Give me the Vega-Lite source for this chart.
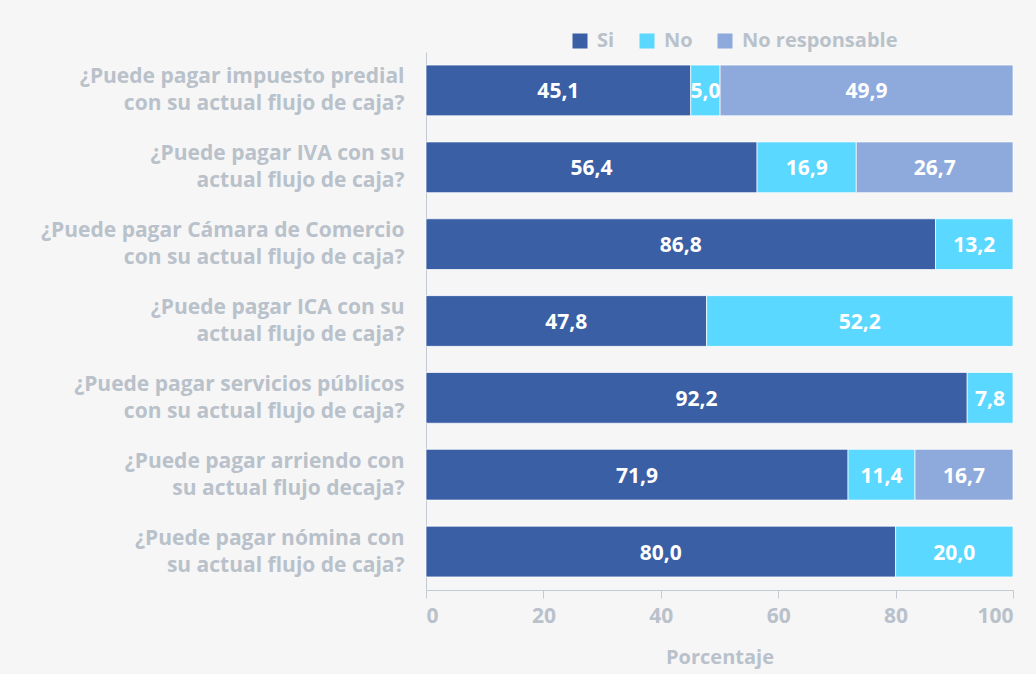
{
  "$schema": "https://vega.github.io/schema/vega-lite/v6.json",
  "width": 587,
  "height": 538,
  "autosize": "none",
  "padding": {"left": 426, "top": 52, "right": 23, "bottom": 84},
  "background": "#f6f6f6",
  "config": {
    "view": {"stroke": null},
    "font": "Open Sans",
    "axis": {"labelFont": "Open Sans", "titleFont": "Open Sans", "labelColor": "#b9c1ca", "titleColor": "#b9c1ca", "domainColor": "#c3cad2", "tickColor": "#c3cad2", "grid": false}
  },
  "data": {
    "values": [
      {"q": "¿Puede pagar impuesto predial|con su actual flujo de caja?", "k": 1, "cat": "Si", "o": 1, "v": 45.1},
      {"q": "¿Puede pagar impuesto predial|con su actual flujo de caja?", "k": 1, "cat": "No", "o": 2, "v": 5.0},
      {"q": "¿Puede pagar impuesto predial|con su actual flujo de caja?", "k": 1, "cat": "No responsable", "o": 3, "v": 49.9},
      {"q": "¿Puede pagar IVA con su|actual flujo de caja?", "k": 2, "cat": "Si", "o": 1, "v": 56.4},
      {"q": "¿Puede pagar IVA con su|actual flujo de caja?", "k": 2, "cat": "No", "o": 2, "v": 16.9},
      {"q": "¿Puede pagar IVA con su|actual flujo de caja?", "k": 2, "cat": "No responsable", "o": 3, "v": 26.7},
      {"q": "¿Puede pagar Cámara de Comercio|con su actual flujo de caja?", "k": 3, "cat": "Si", "o": 1, "v": 86.8},
      {"q": "¿Puede pagar Cámara de Comercio|con su actual flujo de caja?", "k": 3, "cat": "No", "o": 2, "v": 13.2},
      {"q": "¿Puede pagar ICA con su|actual flujo de caja?", "k": 4, "cat": "Si", "o": 1, "v": 47.8},
      {"q": "¿Puede pagar ICA con su|actual flujo de caja?", "k": 4, "cat": "No", "o": 2, "v": 52.2},
      {"q": "¿Puede pagar servicios públicos|con su actual flujo de caja?", "k": 5, "cat": "Si", "o": 1, "v": 92.2},
      {"q": "¿Puede pagar servicios públicos|con su actual flujo de caja?", "k": 5, "cat": "No", "o": 2, "v": 7.8},
      {"q": "¿Puede pagar arriendo con|su actual flujo decaja?", "k": 6, "cat": "Si", "o": 1, "v": 71.9},
      {"q": "¿Puede pagar arriendo con|su actual flujo decaja?", "k": 6, "cat": "No", "o": 2, "v": 11.4},
      {"q": "¿Puede pagar arriendo con|su actual flujo decaja?", "k": 6, "cat": "No responsable", "o": 3, "v": 16.7},
      {"q": "¿Puede pagar nómina con|su actual flujo de caja?", "k": 7, "cat": "Si", "o": 1, "v": 80.0},
      {"q": "¿Puede pagar nómina con|su actual flujo de caja?", "k": 7, "cat": "No", "o": 2, "v": 20.0}
    ]
  },
  "transform": [
    {"stack": "v", "groupby": ["q"], "sort": [{"field": "o"}], "as": ["x0", "x1"]},
    {"calculate": "(datum.x0 + datum.x1) / 2", "as": "xm"},
    {"calculate": "replace(format(datum.v, '.1f'), '.', ',')", "as": "lbl"}
  ],
  "encoding": {
    "y": {
      "field": "q", "type": "nominal",
      "sort": {"field": "k", "op": "min", "order": "ascending"},
      "scale": {"paddingInner": 0.34, "paddingOuter": 0.17},
      "axis": {"title": null, "ticks": false, "labelPadding": 22, "labelOffset": -13, "labelFontSize": 21, "labelFontWeight": "bold", "labelLineHeight": 27, "labelExpr": "split(datum.value, '|')", "labelLimit": 500}
    }
  },
  "layer": [
    {
      "mark": {"type": "bar", "stroke": "#ffffff", "strokeWidth": 0.7},
      "encoding": {
        "x": {"field": "x0", "type": "quantitative", "scale": {"domain": [0, 100]},
          "axis": {"title": "Porcentaje", "values": [0, 20, 40, 60, 80, 100], "tickSize": 8, "labelPadding": 7, "labelFontSize": 21, "labelFontWeight": "bold", "titleFontSize": 20, "titleFontWeight": "bold", "titlePadding": 21}},
        "x2": {"field": "x1"},
        "color": {
          "field": "cat", "type": "nominal",
          "scale": {"domain": ["Si", "No", "No responsable"], "range": ["#3a5fa5", "#5ad8ff", "#8eaadc"]},
          "legend": {"title": null, "orient": "none", "legendX": 144, "legendY": -21, "direction": "horizontal", "symbolType": "square", "symbolSize": 225, "symbolStrokeWidth": 0, "labelFontSize": 20, "labelFontWeight": "bold", "labelColor": "#b9c1ca", "labelFont": "Open Sans", "labelOffset": 7, "labelLimit": 400, "columnPadding": 22}
        }
      }
    },
    {
      "mark": {"type": "text", "color": "#ffffff", "fontSize": 21, "fontWeight": "bold", "font": "Open Sans", "dy": 2},
      "encoding": {
        "x": {"field": "xm", "type": "quantitative"},
        "text": {"field": "lbl"}
      }
    }
  ]
}
